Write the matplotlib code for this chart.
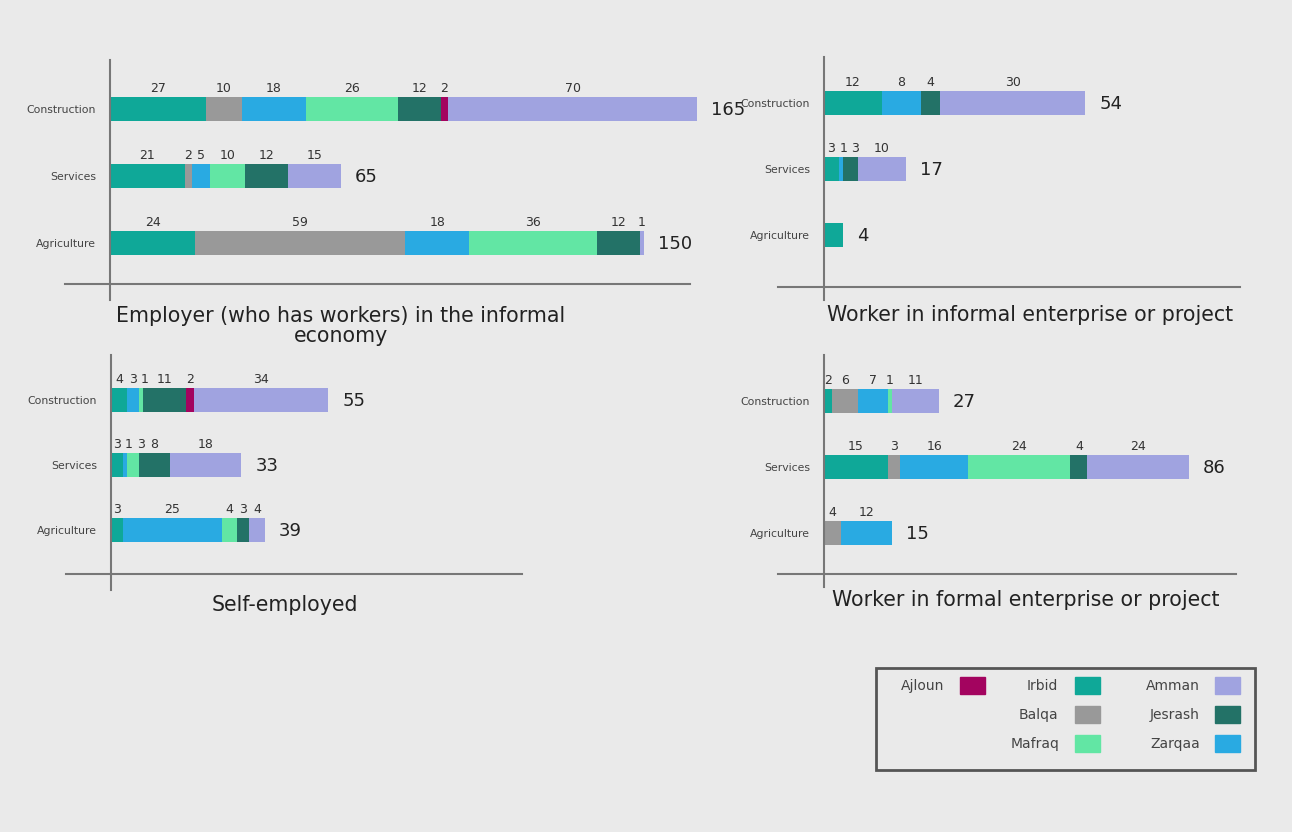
import matplotlib
matplotlib.use('Agg')
import matplotlib.pyplot as plt
from matplotlib.patches import Rectangle
from matplotlib.lines import Line2D

plt.rcParams['font.family'] = ['DejaVu Sans']

W, H = 1292, 832

# data
sectors = ['Construction', 'Services', 'Agriculture']
regions = ['Irbid', 'Balqa', 'Zarqaa', 'Mafraq', 'Jesrash', 'Ajloun', 'Amman']
colors = {'Ajloun': '#a3045f', 'Irbid': '#0fa898', 'Amman': '#a0a3e0',
          'Balqa': '#999999', 'Jesrash': '#237267', 'Mafraq': '#62e6a4',
          'Zarqaa': '#29aae2'}

employer = {'Irbid': [27, 21, 24], 'Balqa': [10, 2, 59], 'Zarqaa': [18, 5, 18],
            'Mafraq': [26, 10, 36], 'Jesrash': [12, 12, 12], 'Ajloun': [2, 0, 0],
            'Amman': [70, 15, 1]}
employer_total = [165, 65, 150]

informal = {'Irbid': [12, 3, 4], 'Balqa': [0, 0, 0], 'Zarqaa': [8, 1, 0],
            'Mafraq': [0, 0, 0], 'Jesrash': [4, 3, 0], 'Ajloun': [0, 0, 0],
            'Amman': [30, 10, 0]}
informal_total = [54, 17, 4]

self_emp = {'Irbid': [4, 3, 3], 'Balqa': [0, 0, 0], 'Zarqaa': [3, 1, 25],
            'Mafraq': [1, 3, 4], 'Jesrash': [11, 8, 3], 'Ajloun': [2, 0, 0],
            'Amman': [34, 18, 4]}
self_total = [55, 33, 39]

formal = {'Irbid': [2, 15, 0], 'Balqa': [6, 3, 4], 'Zarqaa': [7, 16, 12],
          'Mafraq': [1, 24, 0], 'Jesrash': [0, 4, 0], 'Ajloun': [0, 0, 0],
          'Amman': [11, 24, 0]}
formal_total = [27, 86, 15]

titles = ['Employer (who has workers) in the informal\neconomy',
          'Worker in informal enterprise or project',
          'Self-employed',
          'Worker in formal enterprise or project']

# layout in pixels
layout = [
    dict(vx=110, top=60, bot=300, hy=284, hx0=65, hx1=690, r0=109, s=67, xmax=163, tx=341, ty=326),
    dict(vx=824, top=57, bot=300, hy=287, hx0=778, hx1=1240, r0=103, s=66, xmax=86, tx=1030, ty=315),
    dict(vx=111, top=355, bot=590, hy=574, hx0=66, hx1=522, r0=400, s=65, xmax=104, tx=285, ty=605),
    dict(vx=824, top=355, bot=587, hy=574, hx0=778, hx1=1236, r0=401, s=66, xmax=97, tx=1026, ty=600),
]

fig = plt.figure(figsize=(W / 100, H / 100), dpi=100)
fig.patch.set_facecolor('#eaeaea')

panels = [(employer, employer_total), (informal, informal_total),
          (self_emp, self_total), (formal, formal_total)]

for (data, totals), lay, title in zip(panels, layout, titles):
    ax = fig.add_axes([lay['vx'] / W, 1 - lay['bot'] / H,
                       (lay['hx1'] - lay['vx']) / W, (lay['bot'] - lay['top']) / H])
    ax.set_facecolor('none')
    s = lay['s']
    ax.set_xlim(0, lay['xmax'])
    ax.set_ylim(2 + (lay['bot'] - (lay['r0'] + 2 * s)) / s, -(lay['r0'] - lay['top']) / s)
    bh = 24 / s
    px_per_unit = (lay['hx1'] - lay['vx']) / lay['xmax']
    min_gap = 12 / px_per_unit   # keep neighbouring small labels apart
    for i in range(len(sectors)):
        vals = [(r, data[r][i]) for r in regions if data[r][i] > 0]
        left = 0
        last_x = -1e9
        for r, v in vals:
            ax.barh(i, v, left=left, height=bh, color=colors[r], clip_on=False)
            if len(vals) > 1:
                lx = max(left + v / 2, last_x + min_gap)
                last_x = lx
                ax.annotate(str(v), (lx, i), xytext=(0, 15), textcoords='offset points',
                            ha='center', va='center', fontsize=9, color='#333',
                            annotation_clip=False)
            left += v
        ax.annotate(str(totals[i]), (left, i), xytext=(10, -1), textcoords='offset points',
                    ha='left', va='center', fontsize=13, color='#222', annotation_clip=False)
    ax.set_yticks(range(len(sectors)))
    ax.set_yticklabels(sectors, fontsize=7.8, color='#444')
    ax.tick_params(axis='y', length=0, pad=10)
    ax.set_xticks([])
    for sp in ax.spines.values():
        sp.set_visible(False)

    # axis lines
    fig.add_artist(Line2D([lay['vx'] / W] * 2, [1 - lay['top'] / H, 1 - lay['bot'] / H],
                          color='#777', lw=1.5))
    fig.add_artist(Line2D([lay['hx0'] / W, lay['hx1'] / W], [1 - lay['hy'] / H] * 2,
                          color='#777', lw=1.5))
    fig.text(lay['tx'] / W, 1 - lay['ty'] / H, title, ha='center', va='center',
             fontsize=14.8, color='#222', linespacing=0.95)

# legend box
fig.add_artist(Rectangle((876 / W, 1 - 770 / H), 379 / W, 102 / H, fill=False,
                         ec='#555', lw=2, transform=fig.transFigure))
legend_items = [('Ajloun', 944, 960, 686), ('Irbid', 1058, 1075, 686),
                ('Balqa', 1058, 1075, 715), ('Mafraq', 1060, 1075, 744),
                ('Amman', 1200, 1215, 686), ('Jesrash', 1200, 1215, 715),
                ('Zarqaa', 1200, 1215, 744)]
for name, tx, sx, y in legend_items:
    fig.text(tx / W, 1 - y / H, name, ha='right', va='center', fontsize=10, color='#444')
    fig.add_artist(Rectangle((sx / W, 1 - (y + 8) / H), 25 / W, 17 / H,
                             color=colors[name], transform=fig.transFigure))

fig.savefig('out.png', dpi=100, facecolor=fig.get_facecolor())
